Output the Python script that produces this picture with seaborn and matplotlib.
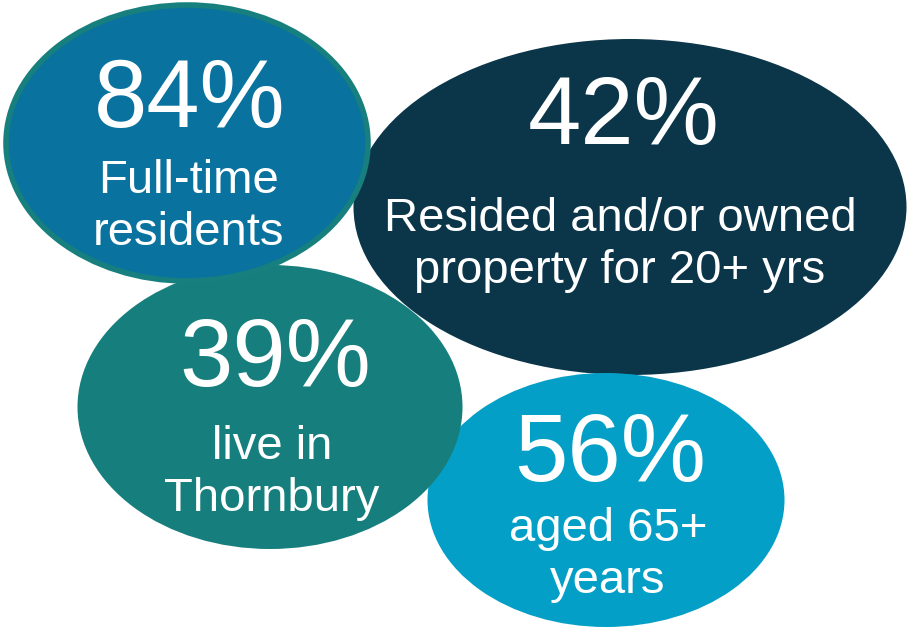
import seaborn as sns
import matplotlib.pyplot as plt
from matplotlib.patches import Ellipse

sns.set_theme(style='white')
plt.rcParams['font.family'] = ['Liberation Sans', 'DejaVu Sans']

# data
percentages = [42, 56, 39, 84]
captions = ['Resided and/or owned\nproperty for 20+ yrs',
            'aged 65+\nyears',
            'live in\nThornbury',
            'Full-time\nresidents']

# layout (pixel coordinates, y downwards)
centers = [(630, 207), (606, 500), (270, 407), (187, 143)]
sizes = [(553, 336), (357, 254), (385, 284), (362, 276)]
colors = ['#0B3649', '#049FC6', '#167F7D', '#09729E']
edges = [None, None, None, '#17807E']
num_y = [119, 456, 361, 102]
num_x = [624, 610, 275, 190]
cap_x = [620, 608, 272, 188]
cap_y = [245, 555, 473, 207]

fig = plt.figure(figsize=(9.07, 6.28), dpi=100)
ax = fig.add_axes([0, 0, 1, 1])
ax.set_xlim(0, 907)
ax.set_ylim(628, 0)
ax.set_aspect('equal')
ax.axis('off')

for i, pct in enumerate(percentages):
    (cx, cy), (w, h) = centers[i], sizes[i]
    e = Ellipse((cx, cy), w, h, facecolor=colors[i],
                edgecolor=edges[i] if edges[i] else 'none',
                linewidth=4 if edges[i] else 0, zorder=i + 1)
    ax.add_patch(e)
    ax.text(num_x[i], num_y[i], f'{pct}%', color='white', fontsize=69,
            ha='center', va='center', zorder=10)
    ax.text(cap_x[i], cap_y[i], captions[i], color='white', fontsize=34,
            ha='center', va='center', linespacing=1.24, zorder=10)

fig.savefig('out.png', dpi=100)
